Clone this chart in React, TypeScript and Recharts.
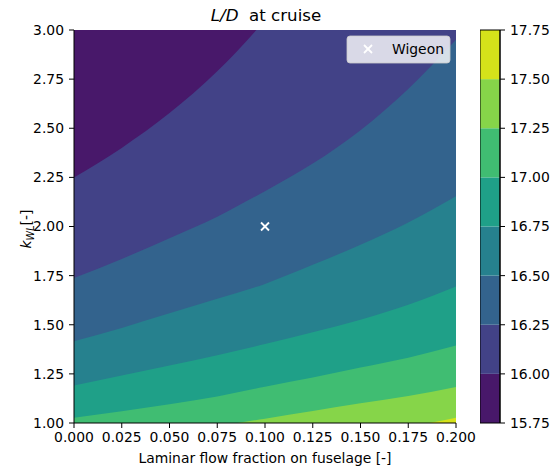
import React from 'react'
import {
  Area,
  CartesianGrid,
  ComposedChart,
  Label,
  ReferenceArea,
  Scatter,
  XAxis,
  YAxis,
} from 'recharts'

// laminar flow fraction sampled along x
const lamFrac = [0, 0.025, 0.05, 0.075, 0.1, 0.125, 0.15, 0.175, 0.2]

// k_WL value of each contour line (L/D level) at the sampled fractions
const kWL1600 = [2.25, 2.4, 2.577, 2.79, 3.05, 3.35, 3.65, 3.95, 4.25]
const kWL1625 = [1.738, 1.835, 1.94, 2.05, 2.18, 2.32, 2.49, 2.7, 2.95]
const kWL1650 = [1.416, 1.484, 1.558, 1.632, 1.708, 1.805, 1.907, 2.02, 2.154]
const kWL1675 = [1.191, 1.242, 1.293, 1.345, 1.402, 1.462, 1.526, 1.602, 1.695]
const kWL1700 = [1.027, 1.06, 1.095, 1.135, 1.185, 1.232, 1.282, 1.332, 1.394]
const kWL1725 = [0.89, 0.925, 0.955, 0.985, 1.022, 1.061, 1.1, 1.137, 1.183]
const kWL1750 = [0.78, 0.81, 0.84, 0.87, 0.9, 0.92, 0.94, 0.98, 1.027]

const levels = [15.75, 16.0, 16.25, 16.5, 16.75, 17.0, 17.25, 17.5, 17.75]
const bandColors = ['#48186a', '#424287', '#33638d', '#26818e', '#1fa088', '#40bd72', '#86d549', '#d5e21a']

const xTicks = [0, 0.025, 0.05, 0.075, 0.1, 0.125, 0.15, 0.175, 0.2]
const yTicks = [1.0, 1.25, 1.5, 1.75, 2.0, 2.25, 2.5, 2.75, 3.0]

const wigeon = [{ lf: 0.1, k: 2.0 }]

const rows = lamFrac.map((lf, i) => ({
  lf,
  c1600: kWL1600[i],
  c1625: kWL1625[i],
  c1650: kWL1650[i],
  c1675: kWL1675[i],
  c1700: kWL1700[i],
  c1725: kWL1725[i],
  c1750: kWL1750[i],
}))

const contourKeys = ['c1600', 'c1625', 'c1650', 'c1675', 'c1700', 'c1725', 'c1750']

// colorbar: two x positions spanning the bar, each band is a range area
const cbRows = [{ c: 0 }, { c: 1 }]

const FONT = 'DejaVu Sans'
const tickStyle = { fill: '#000', fontSize: 13.9, fontFamily: FONT }

const XMarker = (props: any) => {
  const { cx, cy } = props
  const r = 4
  return (
    <g stroke="#fff" strokeWidth={1.8}>
      <line x1={cx - r} y1={cy - r} x2={cx + r} y2={cy + r} />
      <line x1={cx - r} y1={cy + r} x2={cx + r} y2={cy - r} />
    </g>
  )
}

const YLabel = () => (
  <text
    x={31}
    y={229}
    transform="rotate(-90, 31, 229)"
    textAnchor="middle"
    fontFamily={FONT}
    fontSize={13.9}
    fill="#000"
  >
    <tspan fontStyle="italic">k</tspan>
    <tspan fontStyle="italic" fontSize={9.7} dy={3}>WL</tspan>
    <tspan dy={-3}>[-]</tspan>
  </text>
)

export default function App() {
  return (
    <div style={{ position: 'absolute', left: 0, top: 0, width: 554, height: 471, background: '#fff' }}>
      <svg width={554} height={30} style={{ position: 'absolute', left: 0, top: 0 }}>
        <text x={266} y={21} textAnchor="middle" fontFamily={FONT} fontSize={16.67} fill="#000" xmlSpace="preserve">
          <tspan fontStyle="italic">L/D</tspan>
          <tspan>{'\u00a0 at cruise'}</tspan>
        </text>
      </svg>

      <div style={{ position: 'absolute', left: 0, top: 0 }}>
        <ComposedChart width={554} height={471} data={rows} margin={{ top: 30, right: 98, bottom: 0, left: 0 }}>
          <CartesianGrid horizontal={false} vertical={false} fill={bandColors[0]} fillOpacity={1} />
          <XAxis
            dataKey="lf"
            type="number"
            domain={[0, 0.2]}
            ticks={xTicks}
            interval={0}
            allowDataOverflow
            height={48}
            tickSize={5}
            tickMargin={4}
            tick={tickStyle}
            tickLine={{ stroke: '#000' }}
            axisLine={{ stroke: '#000' }}
            tickFormatter={(v: number) => v.toFixed(3)}
          >
            <Label
              value="Laminar flow fraction on fuselage [-]"
              position="insideBottom"
              offset={8}
              fill="#000"
              fontSize={13.9}
              fontFamily={FONT}
            />
          </XAxis>
          <XAxis
            xAxisId="top"
            orientation="top"
            type="number"
            domain={[0, 0.2]}
            height={0}
            tick={false}
            tickLine={false}
            axisLine={{ stroke: '#000' }}
          />
          <YAxis
            type="number"
            domain={[1, 3]}
            ticks={yTicks}
            interval={0}
            allowDataOverflow
            width={74}
            tickSize={5}
            tickMargin={5}
            tick={tickStyle}
            tickLine={{ stroke: '#000' }}
            axisLine={{ stroke: '#000' }}
            tickFormatter={(v: number) => v.toFixed(2)}
          >
            <Label content={YLabel} />
          </YAxis>
          <YAxis
            yAxisId="right"
            orientation="right"
            type="number"
            domain={[1, 3]}
            width={0}
            tick={false}
            tickLine={false}
            axisLine={{ stroke: '#000' }}
          />
          {contourKeys.map((key, i) => (
            <Area
              key={key}
              dataKey={key}
              type="monotone"
              baseValue="dataMin"
              fill={bandColors[i + 1]}
              fillOpacity={1}
              stroke="none"
              isAnimationActive={false}
            />
          ))}
          <Scatter data={wigeon} dataKey="k" shape={XMarker} isAnimationActive={false} />
        </ComposedChart>
      </div>

      <svg width={105} height={29} style={{ position: 'absolute', left: 346, top: 35 }}>
        <rect x={1} y={1} width={103} height={27} rx={3} fill="rgba(255,255,255,0.8)" stroke="rgba(204,204,204,0.8)" />
        <g stroke="#fff" strokeWidth={1.8}>
          <line x1={18} y1={10} x2={26} y2={18} />
          <line x1={18} y1={18} x2={26} y2={10} />
        </g>
        <text x={46} y={19} fontFamily={FONT} fontSize={13.9} fill="#000">Wigeon</text>
      </svg>

      <div style={{ position: 'absolute', left: 480, top: 0 }}>
        <ComposedChart width={74} height={471} data={cbRows} margin={{ top: 30, right: 0, bottom: 48, left: 0 }}>
          <XAxis dataKey="c" type="number" domain={[0, 1]} hide />
          <YAxis
            orientation="right"
            type="number"
            domain={[15.75, 17.75]}
            ticks={levels}
            interval={0}
            allowDataOverflow
            width={54}
            tickSize={5}
            tickMargin={5}
            tick={tickStyle}
            tickLine={{ stroke: '#000' }}
            axisLine={{ stroke: '#000' }}
            tickFormatter={(v: number) => v.toFixed(2)}
          />
          {bandColors.map((color, i) => (
            <Area
              key={color}
              dataKey={() => [levels[i], levels[i + 1]]}
              type="linear"
              fill={color}
              fillOpacity={1}
              stroke="none"
              isAnimationActive={false}
            />
          ))}
          <ReferenceArea x1={0} x2={1} y1={levels[0]} y2={levels[levels.length - 1]} fill="none" stroke="#000" />
        </ComposedChart>
      </div>
    </div>
  )
}
